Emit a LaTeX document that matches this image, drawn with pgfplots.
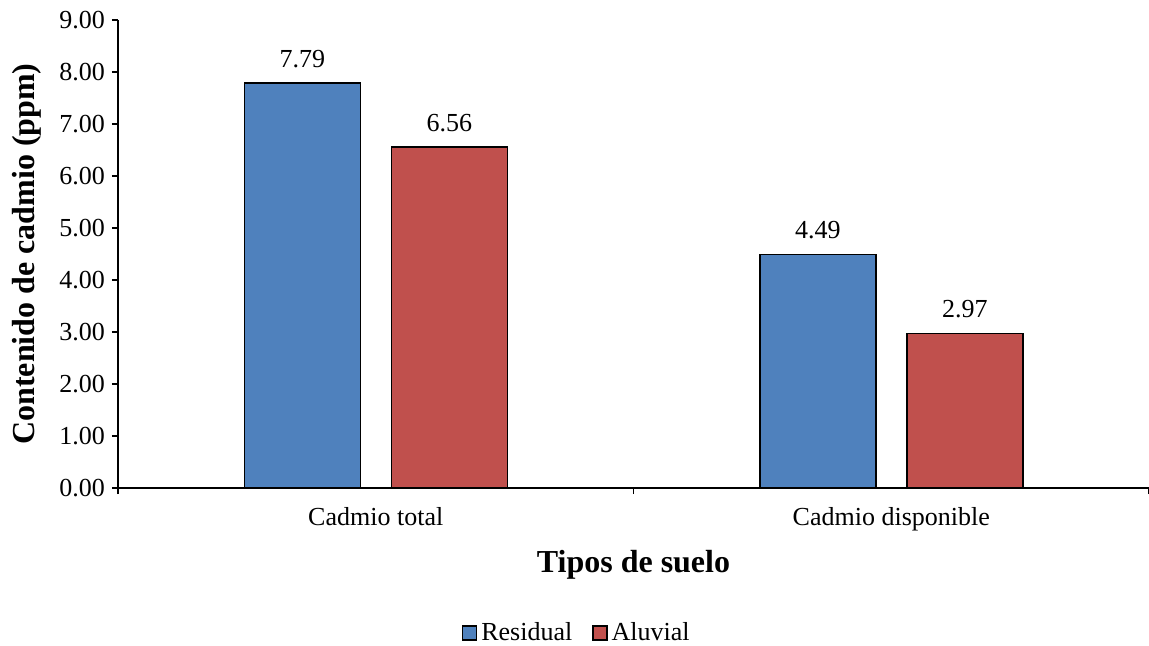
\documentclass[border=0pt]{standalone}
\usepackage{pgfplots}
\pgfplotsset{compat=1.18}
\usepackage{fontspec}
\setmainfont{Liberation Serif}
\definecolor{resid}{HTML}{4F81BD}
\definecolor{aluv}{HTML}{C0504D}
\begin{document}
\begin{tikzpicture}
\begin{axis}[
  at={(0,0)}, anchor=south west,
  scale only axis,
  width=515.5pt, height=234pt,
  ybar=15.5pt, bar width=58pt,
  ymin=0, ymax=9, ytick={0,1,...,9},
  xmin=-0.5, xmax=1.5,
  xtick={-0.5,0.5,1.5},
  x tick label as interval,
  xticklabels={Cadmio total,Cadmio disponible},
  axis lines*=left,
  axis line style={line width=0.75pt},
  tick align=outside,
  major tick length=3pt,
  tick style={black, line width=0.75pt},
  /pgf/number format/.cd, fixed, fixed zerofill, precision=2, assume math mode=true,
  /pgfplots/.cd,
  ticklabel style={font=\fontsize{13}{15}\selectfont},
  x tick label style={yshift=-3pt},
  xlabel={\textbf{Tipos de suelo}},
  xlabel style={font=\fontsize{16}{18}\selectfont, yshift=-3pt},
  ylabel={\textbf{Contenido de cadmio (ppm)}},
  ylabel style={font=\fontsize{16}{18}\selectfont, yshift=2pt},
  nodes near coords,
  every node near coord/.append style={font=\fontsize{13}{15}\selectfont, yshift=4pt, black},
  legend style={at={(0.446,-0.31)}, anchor=center, draw=none, legend columns=2,
    font=\fontsize{13}{15}\selectfont,
    /tikz/every even column/.append style={column sep=8pt}},
  legend image code/.code={\draw[#1, draw=black, line width=0.6pt] (0pt,-3.5pt) rectangle (7pt,3.5pt);},
  legend cell align=left,
]
\addplot[fill=resid, draw=black, line width=0.75pt] coordinates {(0,7.79) (1,4.49)};
\addplot[fill=aluv, draw=black, line width=0.75pt] coordinates {(0,6.56) (1,2.97)};
\legend{Residual,Aluvial}
\end{axis}
\pgfresetboundingbox
\path[use as bounding box] (-59pt,-78.5pt) rectangle (515.5pt,244pt);
\end{tikzpicture}
\end{document}
